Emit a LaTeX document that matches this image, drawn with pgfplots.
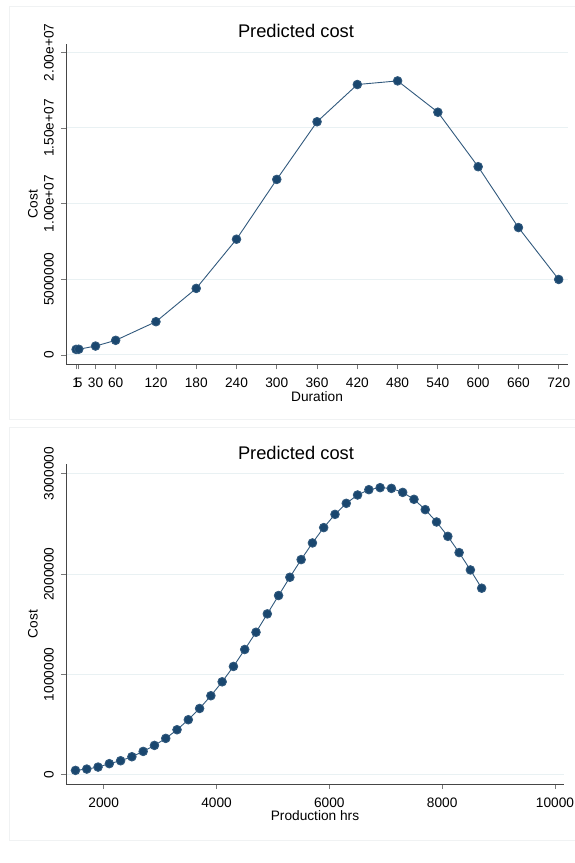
\documentclass[border=0pt]{standalone}
\usepackage{fontspec}
\setmainfont{Liberation Sans}
\usepackage{pgfplots}
\pgfplotsset{compat=1.18}
\definecolor{stnavy}{RGB}{26,71,111}
\definecolor{gridc}{RGB}{233,241,243}
\definecolor{axisc}{RGB}{70,70,70}
\definecolor{tickc}{RGB}{120,120,120}
\definecolor{framec}{RGB}{240,242,243}
\pgfplotsset{stata/.style={
  scale only axis,
  anchor=south west,
  axis x line*=bottom, axis y line*=left,
  axis line style={color=axisc, line width=0.8pt},
  tick style={color=tickc, line width=0.8pt},
  tick align=outside, major tick length=5pt,
  ymajorgrids, grid style={color=gridc, line width=1pt},
  tick label style={font=\fontsize{13.7}{16}\selectfont, text=black},
  yticklabel style={rotate=90, anchor=south, inner sep=0pt, yshift=7pt},
  xticklabel style={anchor=north, inner sep=0pt, yshift=-8.5pt},
  scaled ticks=false,
  /pgf/number format/assume math mode=true,
  clip=false,
}}
\pgfplotsset{stplot/.style={color=stnavy!90!white, line width=0.9pt, mark=*, mark size=4.3pt,
    mark options={solid, fill=stnavy, draw=none}}}
\begin{document}
\begin{tikzpicture}[x=1pt,y=1pt]
\path[use as bounding box] (0,0) rectangle (575,863);
\draw[framec, line width=0.8pt] (9.5,857) rectangle (590,444);
\draw[framec, line width=0.8pt] (9.5,436) rectangle (590,23);

% top chart
\begin{axis}[stata,
  at={(66pt,498.7pt)}, width=501.7pt, height=320.3pt,
  xmin=-14, xmax=733.4, ymin=-614500, ymax=20548000,
  xtick={1,5,30,60,120,180,240,300,360,420,480,540,600,660,720},
  xticklabels={1,5,30,60,120,180,240,300,360,420,480,540,600,660,720},
  ytick={0,5000000,10000000,15000000,20000000},
  yticklabels={0,5000000,1.00e+07,1.50e+07,2.00e+07},
]
\addplot[stplot] coordinates {(1,370000) (5,380000) (30,590000) (60,970000) (120,2200000)
 (180,4400000) (240,7650000) (300,11600000) (360,15410000) (420,17870000)
 (480,18110000) (540,16040000) (600,12440000) (660,8420000) (720,4990000)};
\end{axis}

% bottom chart
\begin{axis}[stata,
  at={(66pt,79pt)}, width=497.7pt, height=319.7pt,
  xmin=1332, xmax=10154, ymin=-92700, ymax=3094000,
  xtick={2000,4000,6000,8000,10000},
  xticklabels={2000,4000,6000,8000,10000},
  ytick={0,1000000,2000000,3000000},
  yticklabels={0,1000000,2000000,3000000},
]
\addplot[stplot] coordinates {(1500,43000) (1700,56000) (1900,76000) (2100,110000) (2300,139000)
 (2500,179000) (2700,232000) (2900,292000) (3100,362000) (3300,448000) (3500,548000)
 (3700,660000) (3900,787000) (4100,926000) (4300,1079000) (4500,1248000) (4700,1420000)
 (4900,1603000) (5100,1786000) (5300,1968000) (5500,2144000) (5700,2310000) (5900,2463000)
 (6100,2595000) (6300,2705000) (6500,2788000) (6700,2841000) (6900,2861000) (7100,2854000)
 (7300,2814000) (7500,2745000) (7700,2642000) (7900,2519000) (8100,2376000) (8300,2214000)
 (8500,2041000) (8700,1859000)};
\end{axis}

\node[font=\fontsize{18.3}{22}\selectfont] at (296,832.3) {Predicted cost};
\node[font=\fontsize{13.7}{16}\selectfont] at (317,466.5) {Duration};
\node[font=\fontsize{13.7}{16}\selectfont, rotate=90] at (33,659) {Cost};
\node[font=\fontsize{18.3}{22}\selectfont] at (296,410) {Predicted cost};
\node[font=\fontsize{13.7}{16}\selectfont] at (315,47) {Production hrs};
\node[font=\fontsize{13.7}{16}\selectfont, rotate=90] at (33,239) {Cost};
\end{tikzpicture}
\end{document}
